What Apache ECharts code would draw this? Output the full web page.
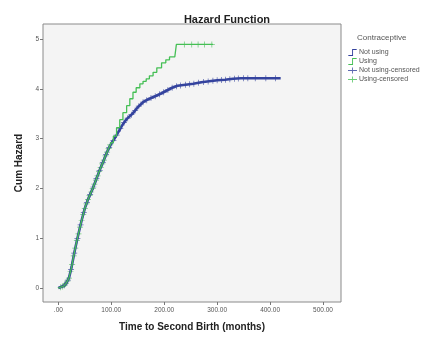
<!DOCTYPE html>
<html>
<head>
<meta charset="utf-8">
<script src="https://cdn.jsdelivr.net/npm/echarts@6/dist/echarts.min.js"></script>
<style>
  html, body { margin: 0; padding: 0; background: #fff; }
  #chart { width: 422px; height: 337px; }
</style>
</head>
<body>
<div id="chart"></div>
<script>
// cumulative hazard points (time in months, cum hazard)
var notUsingT = [0, 5, 10, 15, 20, 25, 30, 35, 40, 45, 50, 55, 60, 65, 70, 75, 80, 85, 90, 95,
  100, 105, 110, 116, 122, 128, 135, 141, 150, 160, 170, 185, 195, 204, 215, 225, 240, 255, 270,
  285, 300, 315, 330, 345, 420];
var notUsingH = [0, 0.02, 0.04, 0.1, 0.2, 0.42, 0.7, 0.95, 1.18, 1.4, 1.6, 1.75, 1.88, 2.0, 2.14, 2.28, 2.42, 2.54, 2.68, 2.8,
  2.9, 2.98, 3.07, 3.18, 3.29, 3.38, 3.45, 3.51, 3.63, 3.73, 3.79, 3.86, 3.91, 3.96, 4.02, 4.06, 4.08, 4.1, 4.13,
  4.15, 4.17, 4.18, 4.2, 4.21, 4.21];

var usingT = [0, 5, 10, 15, 20, 25, 30, 35, 40, 45, 50, 55, 60, 65, 70, 75, 80, 85, 90, 95,
  100, 104, 110, 116, 122, 129, 135, 141, 147, 154, 160, 166, 172, 179, 186, 195, 203, 210, 220, 223, 292];
var usingH = [0, 0.02, 0.04, 0.1, 0.2, 0.42, 0.7, 0.95, 1.18, 1.4, 1.6, 1.75, 1.88, 2.0, 2.14, 2.28, 2.42, 2.54, 2.68, 2.8,
  2.92, 3.05, 3.22, 3.38, 3.52, 3.66, 3.8, 3.93, 4.02, 4.1, 4.15, 4.2, 4.26, 4.33, 4.42, 4.52, 4.58, 4.64, 4.67, 4.89, 4.89];

// censored times
var notUsingCens = [12, 18, 24, 30, 36, 42, 48, 54, 60, 66, 72, 78, 84, 90, 96, 104, 110, 117, 124, 131,
  138, 145, 152, 160, 167, 175, 183, 191, 199, 207, 215, 223, 231, 240, 248, 256, 265, 274, 283, 292,
  300, 308, 316, 324, 333, 340, 350, 358, 372, 392, 410];
var usingCens = [4, 8, 11, 14, 17, 20, 23, 26, 29, 32, 35, 38, 41, 44, 47, 50, 53, 56, 59, 62, 65, 68,
  71, 74, 77, 80, 83, 86, 89, 92, 95, 98, 238, 252, 264, 276, 290];

var xTicks = [0, 100, 200, 300, 400, 500];
var yTicks = [0, 1, 2, 3, 4, 5];

var blue = '#34439e';
var green = '#45bf55';
var cross = 'path://M0,4.4h10v1.2h-10z M4.4,0h1.2v10h-1.2z';
var font = 'Arial, Liberation Sans, sans-serif';

// points joined directly up to stepFrom, as steps after it
function curve(t, h, stepFrom) {
  var out = [];
  for (var i = 0; i < t.length; i++) {
    if (i > 0 && t[i] > stepFrom) out.push([t[i], h[i - 1]]);
    out.push([t[i], h[i]]);
  }
  return out;
}
// value of the curve at time c
function atTime(t, h, c) {
  for (var i = 1; i < t.length; i++) {
    if (t[i] >= c) {
      return h[i - 1] + (h[i] - h[i - 1]) * (c - t[i - 1]) / (t[i] - t[i - 1]);
    }
  }
  return h[h.length - 1];
}
function atStep(t, h, c) {
  var v = h[0];
  for (var i = 0; i < t.length; i++) { if (t[i] <= c) v = h[i]; }
  return v;
}
function cens(list, t, h, stepFrom) {
  return list.map(function (c) {
    return [c, c > stepFrom ? atStep(t, h, c) : atTime(t, h, c)];
  });
}

var chart = echarts.init(document.getElementById('chart'));
var tickFont = { color: '#555', fontSize: 6.5, fontFamily: font };

chart.setOption({
  animation: false,
  title: [{
    text: 'Hazard Function',
    left: 222, top: 9, textAlign: 'center',
    textStyle: { fontSize: 11, fontWeight: 'bold', color: '#222', fontFamily: font }
  }, {
    text: 'Contraceptive',
    left: 352, top: 29,
    textStyle: { fontSize: 8, fontWeight: 'normal', color: '#555', fontFamily: font }
  }],
  legend: {
    orient: 'vertical',
    left: 343, top: 44,
    itemWidth: 9, itemHeight: 7, itemGap: 2,
    textStyle: { fontSize: 7, color: '#555', padding: [0, 0, 0, -3], fontFamily: font },
    data: [
      { name: 'Not using', icon: 'path://M0,9h5v-8h6v1.2h-4.8v8h-6.2z' },
      { name: 'Using', icon: 'path://M0,9h5v-8h6v1.2h-4.8v8h-6.2z' },
      { name: 'Not using-censored', icon: 'path://M0,4.4h12v1.2h-12z M5.4,1h1.2v8h-1.2z' },
      { name: 'Using-censored', icon: 'path://M0,4.4h12v1.2h-12z M5.4,1h1.2v8h-1.2z' }
    ]
  },
  grid: {
    left: 43, right: 81, top: 24, bottom: 32,
    show: true, backgroundColor: '#f4f4f4', borderColor: '#8a8a8a', borderWidth: 1
  },
  xAxis: {
    type: 'value', min: -29, max: 534,
    name: 'Time to Second Birth (months)',
    nameLocation: 'middle', nameGap: 20,
    nameTextStyle: { fontSize: 10, fontWeight: 'bold', color: '#222', fontFamily: font },
    axisLine: { show: false, onZero: false },
    splitLine: { show: false },
    axisTick: { show: true, length: 3, customValues: xTicks, lineStyle: { color: '#777' } },
    axisLabel: Object.assign({
      customValues: xTicks, margin: 5,
      formatter: function (v) { return v === 0 ? '.00' : v.toFixed(2); }
    }, tickFont)
  },
  yAxis: {
    type: 'value', min: -0.28, max: 5.3,
    name: 'Cum Hazard',
    nameLocation: 'middle', nameGap: 17,
    nameTextStyle: { fontSize: 10, fontWeight: 'bold', color: '#222', fontFamily: font },
    axisLine: { show: false, onZero: false },
    splitLine: { show: false },
    axisTick: { show: true, length: 3, customValues: yTicks, lineStyle: { color: '#777' } },
    axisLabel: Object.assign({ customValues: yTicks, margin: 4 }, tickFont)
  },
  series: [{
    name: 'Not using', type: 'line', showSymbol: false,
    data: curve(notUsingT, notUsingH, 1000),
    color: blue, lineStyle: { color: blue, width: 2.6 }
  }, {
    name: 'Not using-censored', type: 'scatter', symbol: cross, symbolSize: 6,
    data: cens(notUsingCens, notUsingT, notUsingH, 1000),
    itemStyle: { color: blue }
  }, {
    name: 'Using', type: 'line', showSymbol: false,
    data: curve(usingT, usingH, 100),
    color: green, lineStyle: { color: green, width: 1.3 }
  }, {
    name: 'Using-censored', type: 'scatter', symbol: cross, symbolSize: 6,
    data: cens(usingCens, usingT, usingH, 100),
    itemStyle: { color: green }
  }]
});
</script>
</body>
</html>
